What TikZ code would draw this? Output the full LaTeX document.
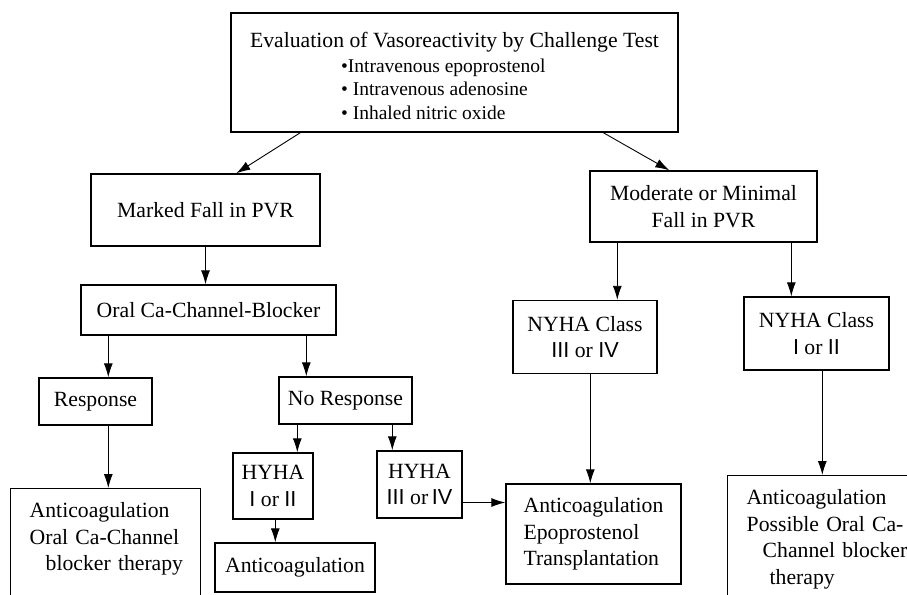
\documentclass[tikz,border=0pt]{standalone}
\usepackage{fontspec}
\setmainfont{Liberation Serif}
\newfontfamily\numfont{Liberation Sans}
\usetikzlibrary{arrows.meta}

\newcommand{\rn}[1]{{\numfont #1}}

\tikzset{
  box/.style={draw, line width=1.4pt, inner sep=0pt, align=center,
    font=\fontsize{21.7}{26.5}\selectfont},
  openbox/.style={box, anchor=north west, align=left, inner xsep=19pt, inner ysep=14pt},
  arr/.style={-{Latex[length=14pt,width=9pt]}, line width=0.9pt},
}

\begin{document}
\begin{tikzpicture}[x=1pt,y=-1pt]
  \useasboundingbox (0,0) rectangle (907,594);
  \clip (0,0) rectangle (907,594);
  %boxes
  \node[box, align=left, minimum width=447pt, minimum height=119pt] (eval) at (454.5,72.5)
    {\rule{0pt}{22pt}Evaluation of Vasoreactivity by Challenge Test\\[-2pt]
     {\fontsize{19.5}{23}\selectfont\hspace*{91pt}•Intravenous epoprostenol}\\[-3pt]
     {\fontsize{19.5}{23}\selectfont\hspace*{91pt}• Intravenous adenosine}\\[-3pt]
     {\fontsize{19.5}{23}\selectfont\hspace*{91pt}• Inhaled nitric oxide}};
  \node[box, minimum width=229pt, minimum height=72pt] (marked) at (205.5,210) {Marked Fall in PVR};
  \node[box, minimum width=227pt, minimum height=71pt] (moder) at (703.5,206.5) {Moderate or Minimal\\Fall in PVR};
  \node[box, minimum width=255pt, minimum height=50pt] (oral) at (208.5,310) {Oral Ca-Channel-Blocker};
  \node[box, minimum width=113pt, minimum height=47pt] (resp) at (95.5,401.5) {Response};
  \node[box, minimum width=133pt, minimum height=47pt] (noresp) at (345.5,400.5) {No Response};
  \node[box, minimum width=80pt, minimum height=66pt] (hyhaI) at (273,486) {HYHA\\\rn{I} or \rn{II}};
  \node[box, minimum width=85pt, minimum height=67pt] (hyhaIII) at (419.5,484.5) {HYHA\\\rn{III} or\,\rn{IV}};
  \node[box, minimum width=160pt, minimum height=49pt] (acgonly) at (295,567.5) {Anticoagulation};
  \node[box, minimum width=144pt, minimum height=73pt] (nyhaIII) at (585,337) {NYHA Class\\\rn{III} or \rn{IV}};
  \node[box, minimum width=145pt, minimum height=73pt] (nyhaI) at (816.5,333.5) {NYHA Class\\\rn{I} or \rn{II}};
  \node[box, align=left, minimum width=175pt, minimum height=100pt] (epo) at (593.5,534)
    {Anticoagulation\\Epoprostenol\\Transplantation};
  \node[openbox, text width=152pt] (acgcab) at (10,488)
    {Anticoagulation\\Oral Ca-Channel\\\mbox{\hspace*{16pt}blocker therapy}\rule[-80pt]{0pt}{0pt}};
  \node[openbox, text width=200pt] (acgposs) at (727,475)
    {Anticoagulation\\Possible Oral Ca-\\\mbox{\hspace*{16pt}Channel blocker}\\\hspace*{23pt}therapy\rule[-60pt]{0pt}{0pt}};
  %arrows
  \draw[arr] ([xshift=70pt]eval.south west) -- ([xshift=146pt]marked.north west);
  \draw[arr] ([xshift=373pt]eval.south west) -- ([xshift=80pt]moder.north west);
  \draw[arr] (marked.south) -- (marked.south |- oral.north);
  \draw[arr] ([xshift=28pt]oral.south west) -- ([xshift=28pt]oral.south west |- resp.north);
  \draw[arr] ([xshift=226pt]oral.south west) -- ([xshift=226pt]oral.south west |- noresp.north);
  \draw[arr] ([xshift=70pt]resp.south west) -- ([xshift=70pt]resp.south west |- acgcab.north);
  \draw[arr] ([xshift=19pt]noresp.south west) -- ([xshift=19pt]noresp.south west |- hyhaI.north);
  \draw[arr] ([xshift=114pt]noresp.south west) -- ([xshift=114pt]noresp.south west |- hyhaIII.north);
  \draw[arr] ([xshift=43pt]hyhaI.south west) -- ([xshift=43pt]hyhaI.south west |- acgonly.north);
  \draw[arr] ([yshift=-18pt]hyhaIII.east) -- ([yshift=-18pt]hyhaIII.east -| epo.west);
  \draw[arr] ([xshift=28pt]moder.south west) -- ([xshift=28pt]moder.south west |- nyhaIII.north);
  \draw[arr] ([xshift=202pt]moder.south west) -- ([xshift=202pt]moder.south west |- nyhaI.north);
  \draw[arr] ([xshift=78pt]nyhaIII.south west) -- ([xshift=78pt]nyhaIII.south west |- epo.north);
  \draw[arr] ([xshift=79pt]nyhaI.south west) -- ([xshift=79pt]nyhaI.south west |- acgposs.north);
\end{tikzpicture}
\end{document}
